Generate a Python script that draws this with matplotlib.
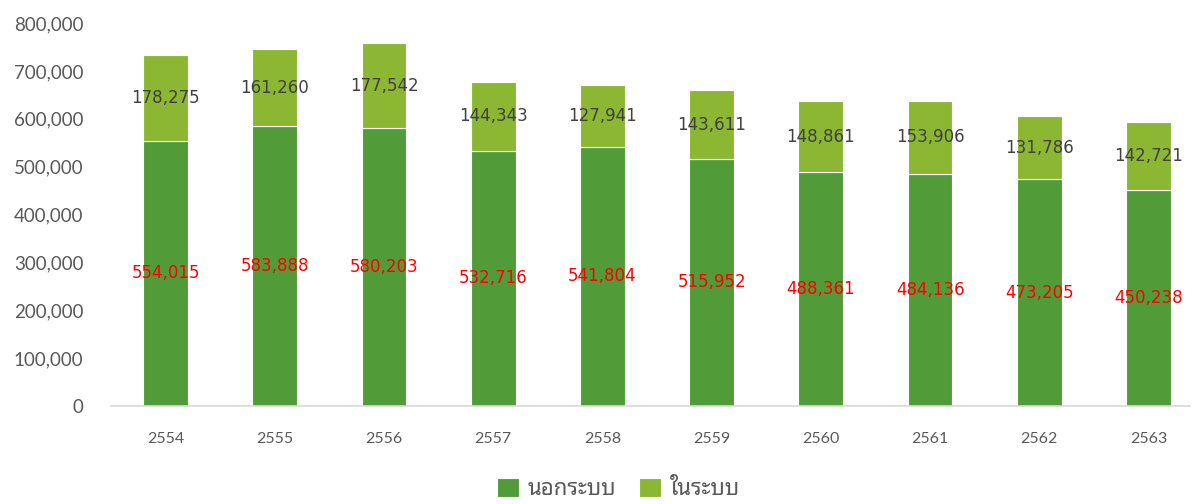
import matplotlib
matplotlib.use("Agg")
import matplotlib.pyplot as plt
import numpy as np

# ── Data ──────────────────────────────────────────────────────
years = ["2554", "2555", "2556", "2557", "2558", "2559", "2560", "2561", "2562", "2563"]
informal = [554015, 583888, 580203, 532716, 541804, 515952, 488361, 484136, 473205, 450238]
formal = [178275, 161260, 177542, 144343, 127941, 143611, 148861, 153906, 131786, 142721]
series_names = ["นอกระบบ", "ในระบบ"]

DARK = "#529b39"
LIGHT = "#8bb733"
AXIS_TXT = "#595959"

fig = plt.figure(figsize=(11.92, 5.04), dpi=100)
ax = fig.add_axes([111 / 1192, 98 / 504, 1079 / 1192, 383 / 504])

x = np.arange(len(years))
b1 = ax.bar(x, informal, width=0.41, color=DARK, edgecolor="white", linewidth=0.8)
b2 = ax.bar(x, formal, width=0.41, bottom=informal, color=LIGHT,
            edgecolor="white", linewidth=0.8)

# Value labels, centred in each segment
for xi, lo, hi in zip(x, informal, formal):
    ax.text(xi, lo / 2, f"{lo:,}", ha="center", va="center", color="red",
            fontsize=12, family=["DejaVu Sans"])
    ax.text(xi, lo + hi / 2, f"{hi:,}", ha="center", va="center", color="#404040",
            fontsize=12, family=["DejaVu Sans"])

ax.set_xlim(-0.5, 9.38)
ax.set_ylim(0, 800000)
ax.set_yticks(np.arange(0, 800001, 100000))
ax.set_yticklabels([f"{v:,}" for v in range(0, 800001, 100000)],
                   fontsize=13.5, color=AXIS_TXT, family="Lato")
ax.set_xticks(x)
ax.set_xticklabels(years, fontsize=11.5, color=AXIS_TXT, family="Lato")
ax.tick_params(axis="both", length=0)
ax.tick_params(axis="x", pad=19)
ax.tick_params(axis="y", pad=20)

for side in ["top", "right", "left"]:
    ax.spines[side].set_visible(False)
ax.spines["bottom"].set_color("#d9d9d9")
ax.spines["bottom"].set_linewidth(1.2)

fig.legend([b1, b2], series_names, loc="lower center", bbox_to_anchor=(0.519, -0.032),
           ncol=2, frameon=False, handlelength=1.0, handleheight=1.0,
           handletextpad=0.4, columnspacing=1.0,
           prop={"family": ["Noto Sans Thai Looped"], "size": 16})
for t in fig.legends[0].get_texts():
    t.set_color(AXIS_TXT)

fig.savefig("out.png", dpi=100)
